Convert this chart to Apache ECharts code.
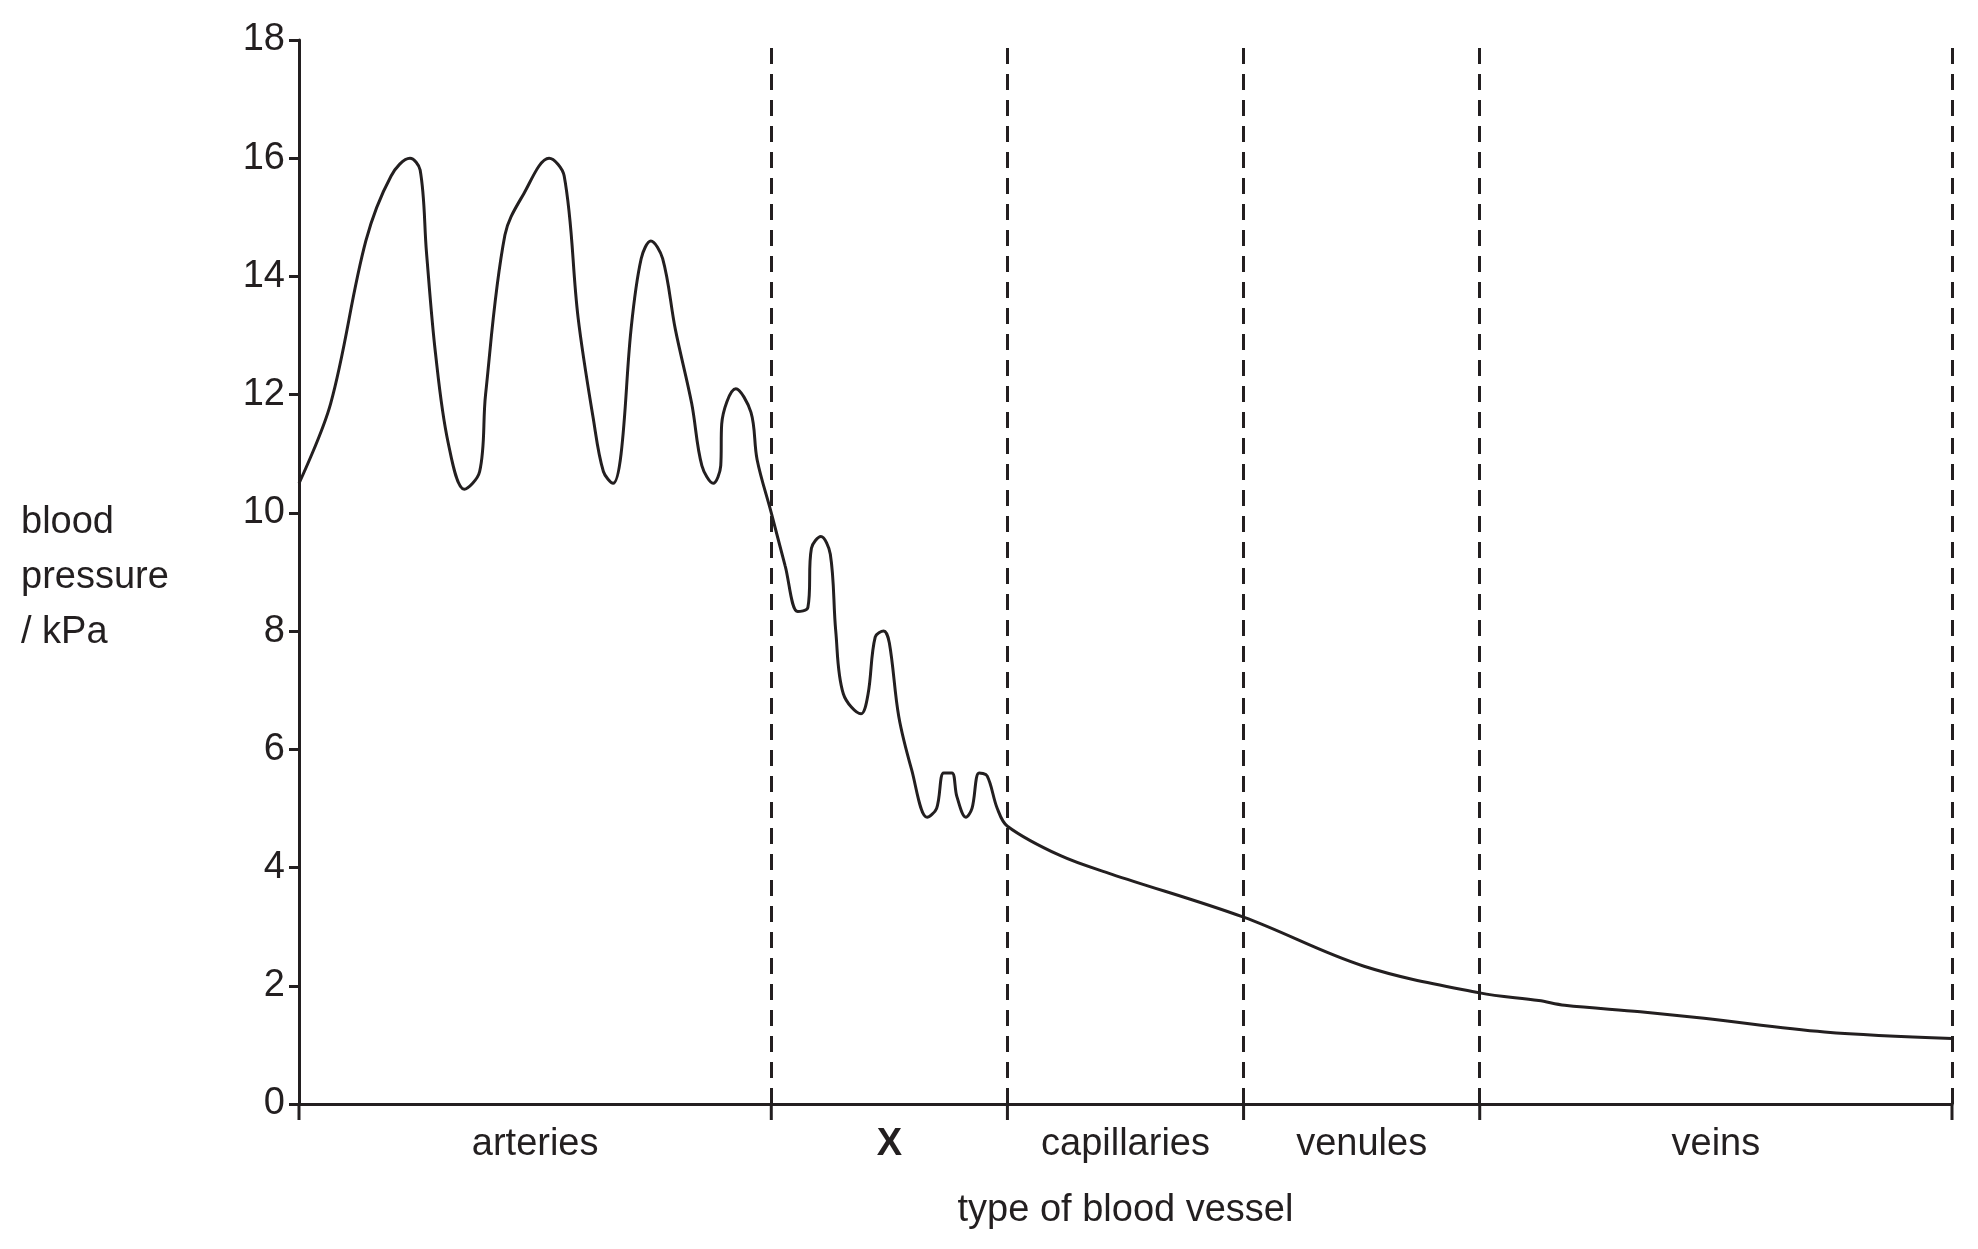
<!DOCTYPE html>
<html><head><meta charset="utf-8">
<script src="https://cdn.jsdelivr.net/npm/echarts@6/dist/echarts.min.js"></script>
<style>html,body{margin:0;padding:0;background:#fff}#c{width:1978px;height:1249px}</style>
</head><body><div id="c"></div>
<script>
const curveX = [0,0.134,0.283,0.39,0.47,0.513,0.54,0.578,0.631,0.70,0.765,0.79,0.872,0.952,1.059,1.123,1.182,1.246,1.289,1.33,1.364,1.406,1.449,1.49,1.54,1.594,1.663,1.706,1.754,1.786,1.79,1.85,1.914,1.94,2.0,2.059,2.112,2.155,2.17,2.21,2.25,2.273,2.305,2.38,2.41,2.44,2.476,2.5,2.54,2.594,2.66,2.70,2.73,2.765,2.786,2.824,2.85,2.88,2.914,2.957,3.0,3.225,3.44,4.0,4.51,5.0,5.25,5.36,5.68,5.95,6.46,7.0];
const curveY = [10.5,11.85,14.6,15.7,16,15.8,14.4,12.7,11.2,10.4,10.7,12.0,14.7,15.4,16,15.7,13.3,11.6,10.7,10.5,11.0,13.1,14.3,14.6,14.3,13.1,11.85,10.8,10.5,10.8,11.5,12.1,11.7,10.9,10.0,9.1,8.33,8.4,9.4,9.6,9.3,8.0,6.94,6.6,6.94,7.9,8.0,7.8,6.55,5.66,4.85,5.0,5.6,5.6,5.2,4.85,5.0,5.6,5.55,5.0,4.7,4.2,3.89,3.16,2.33,1.88,1.75,1.67,1.56,1.45,1.22,1.11];
const boundaries = [0,2,3,4,5,7];
const dashedAt = [2,3,4,5,7];
const categories = ['arteries','X','capillaries','venules','veins'];
const categoryCentres = [1,2.5,3.5,4.5,6];
const yTicks = [0,2,4,6,8,10,12,14,16,18];

const F = '"Liberation Sans", Arial, sans-serif';
const black = '#231f20';
const chart = echarts.init(document.getElementById('c'));
chart.setOption({
  animation:false,
  grid:{left:299,right:26,top:40,bottom:145},
  xAxis:{type:'value',min:0,max:7,interval:0.5,
    name:'type of blood vessel',nameLocation:'middle',nameGap:88,
    nameTextStyle:{fontFamily:F,fontSize:38,color:black},
    axisLine:{lineStyle:{color:black,width:3}},axisTick:{show:false},splitLine:{show:false},
    axisLabel:{margin:22,fontFamily:F,fontSize:38,color:black,
      formatter:v=>{const i=categoryCentres.indexOf(v);if(i<0)return '';return categories[i]==='X'?'{b|X}':categories[i];},
      rich:{b:{fontWeight:'bold',fontFamily:F,fontSize:38,color:black}}}},
  yAxis:{type:'value',min:0,max:18,interval:2,
    axisLine:{show:true,lineStyle:{color:black,width:3}},
    axisTick:{show:true,length:10,lineStyle:{color:black,width:3}},
    splitLine:{show:false},
    axisLabel:{margin:14,fontFamily:F,fontSize:38,color:black,formatter:v=>yTicks.includes(v)?String(v):''}},
  graphic:[{type:'text',left:21,top:495,style:{text:'blood\npressure\n/ kPa',font:'38px '+F,fill:black,lineHeight:55}}],
  series:[
    {type:'line',data:curveX.map((x,i)=>[x,curveY[i]]),smooth:0.35,symbol:'none',
     lineStyle:{color:black,width:3},
     markLine:{silent:true,symbol:'none',label:{show:false},
       lineStyle:{color:black,width:3,type:[16,10]},
       data:dashedAt.map(x=>[{coord:[x,0]},{coord:[x,18]}])}},
    {type:'custom',clip:false,silent:true,data:boundaries.map(b=>[b,0]),
     renderItem:(p,api)=>{const pt=api.coord([api.value(0),0]);
       return {type:'line',shape:{x1:pt[0],y1:pt[1],x2:pt[0],y2:pt[1]+16},style:{stroke:black,lineWidth:3}};}}
  ]
});
</script></body></html>
